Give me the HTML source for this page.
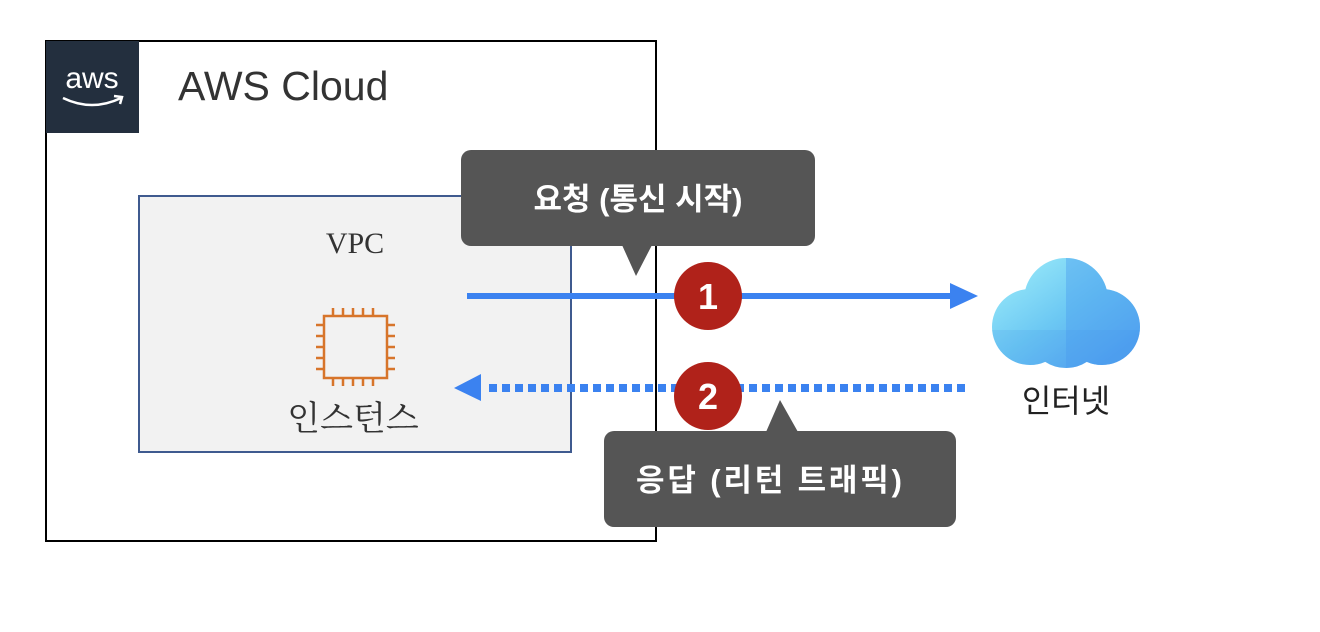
<!DOCTYPE html>
<html><head><meta charset="utf-8"><style>
html,body{margin:0;padding:0;background:#fff;}
svg{display:block}
</style></head><body>
<svg width="1320" height="632" viewBox="0 0 1320 632" xmlns="http://www.w3.org/2000/svg">
<defs>
<linearGradient id="cg" x1="0" y1="0" x2="1" y2="1">
<stop offset="0" stop-color="#a6f3fb"/><stop offset="0.5" stop-color="#6cc8f3"/><stop offset="1" stop-color="#4a94ee"/>
</linearGradient>
<clipPath id="cc"><circle cx="1066" cy="300" r="42"/><circle cx="1030" cy="327" r="38"/><circle cx="1102" cy="327" r="38"/><circle cx="1066" cy="330" r="38"/></clipPath>
</defs>
<rect x="46" y="41" width="610" height="500" fill="#fff" stroke="#000" stroke-width="2"/>
<rect x="46" y="41" width="93" height="92" fill="#232f3e"/>
<text x="92" y="88" text-anchor="middle" font-family="Liberation Sans, sans-serif" font-size="30" fill="#fff">aws</text>
<path d="M63 98 Q92 112 121 98" stroke="#fff" stroke-width="2.5" fill="none"/>
<path d="M114 96 L122 97 L120 104" stroke="#fff" stroke-width="2.5" fill="none"/>
<text x="178" y="100" font-family="Liberation Sans, sans-serif" font-size="41" fill="#333">AWS Cloud</text>
<rect x="139" y="196" width="432" height="256" fill="#f2f2f2" stroke="#3f5a8f" stroke-width="2"/>
<text x="355" y="253" text-anchor="middle" font-family="Liberation Serif, serif" font-size="30" fill="#333">VPC</text>
<g stroke="#d7752b" stroke-width="2.5" fill="none">
<rect x="324" y="316" width="63" height="62"/>
<path d="M333 316v-8M343 316v-8M353 316v-8M363 316v-8M373 316v-8M333 378v8M343 378v8M353 378v8M363 378v8M373 378v8M324 325h-8M324 336h-8M324 347h-8M324 358h-8M324 369h-8M387 325h8M387 336h8M387 347h8M387 358h8M387 369h8"/>
</g>
<text x="353" y="430" text-anchor="middle" font-family="Liberation Serif, 'Noto Serif CJK SC', serif" font-size="34" fill="#333">인스턴스</text>
<rect x="461" y="150" width="354" height="96" rx="10" fill="#555"/>
<polygon points="622,245 652,245 636,276" fill="#555"/>
<text x="638" y="210" text-anchor="middle" font-family="Liberation Sans, 'Noto Sans CJK KR', sans-serif" font-size="31" font-weight="bold" fill="#fff">요청 (통신 시작)</text>
<rect x="604" y="431" width="352" height="96" rx="10" fill="#555"/>
<polygon points="766,432 798,432 780,400" fill="#555"/>
<text x="769" y="491" text-anchor="middle" font-family="Liberation Sans, 'Noto Sans CJK KR', sans-serif" font-size="31" font-weight="bold" fill="#fff" textLength="266">응답 (리턴 트래픽)</text>
<line x1="467" y1="296" x2="952" y2="296" stroke="#3b82f0" stroke-width="6"/>
<polygon points="950,283 978,296 950,309" fill="#3b82f0"/>
<line x1="965" y1="388" x2="486" y2="388" stroke="#3b82f0" stroke-width="8" stroke-dasharray="8 5"/>
<polygon points="481,374 454,388 481,401" fill="#3b82f0"/>
<circle cx="708" cy="296" r="34" fill="#b0221a"/>
<text x="708" y="309" text-anchor="middle" font-family="Liberation Sans, sans-serif" font-size="36" font-weight="bold" fill="#fff">1</text>
<circle cx="708" cy="396" r="34" fill="#b0221a"/>
<text x="708" y="409" text-anchor="middle" font-family="Liberation Sans, sans-serif" font-size="36" font-weight="bold" fill="#fff">2</text>
<g clip-path="url(#cc)">
<rect x="985" y="255" width="160" height="115" fill="url(#cg)"/>
<rect x="1066" y="255" width="80" height="115" fill="#4d9ff0" opacity="0.45"/>
<rect x="985" y="330" width="160" height="45" fill="#3a8be8" opacity="0.15"/>
</g>
<text x="1066" y="412" text-anchor="middle" font-family="Liberation Sans, 'Noto Sans CJK KR', sans-serif" font-size="32" fill="#222">인터넷</text>
</svg>
</body></html>
